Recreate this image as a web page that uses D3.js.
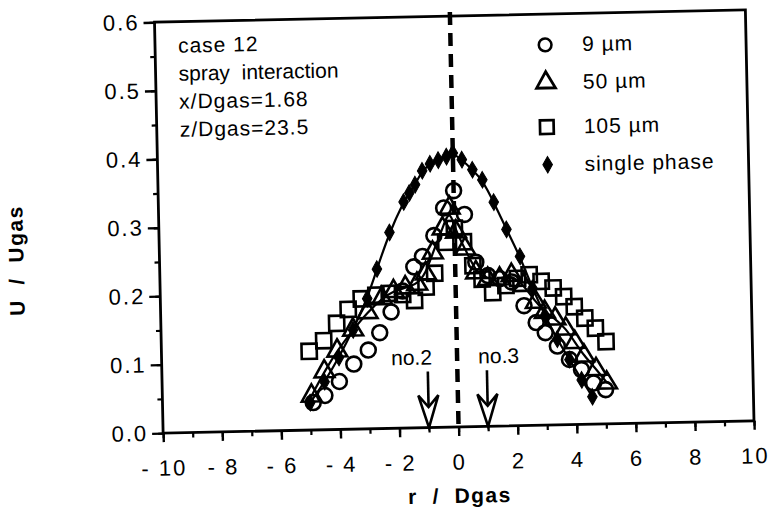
<!DOCTYPE html>
<html><head><meta charset="utf-8">
<script src="https://cdn.jsdelivr.net/npm/d3@7"></script>
<style>
html,body{margin:0;padding:0;background:#fff;}
text{font-family:"Liberation Sans",Arial,Helvetica,sans-serif;fill:#000;}
</style></head>
<body><svg id="c" width="771" height="523"></svg>
<script>
// ---- data ----
const xTicksMajor = [-10,-8,-6,-4,-2,0,2,4,6,8,10];
const yTicksMajor = [0,0.1,0.2,0.3,0.4,0.5,0.6];
const infoLines = ["case 12","spray  interaction","x/Dgas=1.68","z/Dgas=23.5"];
const seriesNames = ["9 \u00b5m","50 \u00b5m","105 \u00b5m","single phase"];

const r9 = [-4.9,-4.5,-4.0,-3.5,-3.0,-2.6,-2.2,-1.8,-1.4,-1.1,-0.7,-0.35,0,0.35,0.7,1.1,1.5,1.9,2.3,2.7,3.0,3.4,3.8,4.2,4.6,5.0];
const v9 = [0.04,0.05,0.07,0.095,0.115,0.14,0.17,0.2,0.235,0.25,0.28,0.32,0.345,0.31,0.24,0.22,0.215,0.21,0.175,0.15,0.135,0.115,0.095,0.08,0.06,0.05];

const r50 = [-4.95,-4.5,-4.05,-3.5,-3.0,-2.5,-2.1,-1.7,-1.3,-1.0,-0.75,-0.4,-0.15,0.05,0.35,0.7,1.1,1.5,1.9,2.3,2.7,3.0,3.35,3.7,4.0,4.3,4.7,5.05];
const v50 = [0.05,0.085,0.115,0.145,0.17,0.19,0.2,0.205,0.21,0.225,0.255,0.29,0.32,0.285,0.26,0.225,0.215,0.215,0.22,0.205,0.18,0.165,0.155,0.14,0.12,0.1,0.08,0.06];

const r105 = [-5.0,-4.5,-4.05,-3.65,-3.2,-2.7,-2.25,-1.8,-1.4,-1.0,-0.7,-0.3,0,0.3,0.6,0.9,1.25,1.7,2.1,2.5,2.9,3.3,3.65,4.0,4.35,4.7,5.05];
const v105 = [0.115,0.13,0.155,0.175,0.19,0.195,0.197,0.195,0.186,0.205,0.225,0.27,0.29,0.27,0.235,0.215,0.195,0.205,0.215,0.22,0.21,0.2,0.187,0.172,0.155,0.14,0.12];

const rSP = [-5.0,-4.5,-4.0,-3.5,-3.0,-2.65,-2.2,-1.7,-1.5,-1.3,-1.05,-0.78,-0.5,-0.22,0,0.3,0.65,0.98,1.35,1.76,2.2,2.6,3.0,3.4,3.8,4.2,4.55];
const vSP = [0.04,0.07,0.105,0.145,0.19,0.233,0.286,0.33,0.343,0.355,0.375,0.385,0.39,0.395,0.4,0.39,0.375,0.36,0.327,0.287,0.247,0.2,0.16,0.125,0.095,0.065,0.04];

const arrowR = [-1, 1];
const arrowLabels = ["no.2","no.3"];

// ---- layout ----
const PW = 591, PH = 411;
const svg = d3.select("#c");
const g = svg.append("g")
  .attr("transform","translate(454.25,221.5) rotate(-1.2) translate(-295.5,-205.5)");

const x = d3.scaleLinear().domain([-10,10]).range([0,PW]);
const y = d3.scaleLinear().domain([0,0.6]).range([PH,0]);

const zip = (rs,vs)=>rs.map((r,i)=>({r:r,v:vs[i]}));
const d9 = zip(r9,v9), d50 = zip(r50,v50), d105 = zip(r105,v105), dSP = zip(rSP,vSP);

// axes: minor ticks
const xMinor = d3.range(-10,11,1);
const yMinor = d3.range(0,0.61,0.05);
g.append("g").attr("transform",`translate(0,${PH})`)
  .call(d3.axisBottom(x).tickValues(xMinor).tickSize(5).tickFormat(""))
  .call(s=>{s.select(".domain").remove(); s.selectAll("line").attr("stroke-width",2.2);});
g.append("g")
  .call(d3.axisLeft(y).tickValues(yMinor).tickSize(5).tickFormat(""))
  .call(s=>{s.select(".domain").remove(); s.selectAll("line").attr("stroke-width",2.2);});

const xa = g.append("g").attr("transform",`translate(0,${PH})`)
  .call(d3.axisBottom(x).tickValues(xTicksMajor).tickSize(9).tickPadding(18)
        .tickFormat(d=> d<0 ? "- "+(-d) : String(d)));
xa.select(".domain").remove();
xa.selectAll("line").attr("stroke-width",2.4);
xa.selectAll("text").style("font-size","22px").style("letter-spacing","2px").attr("font-family",null);

const ya = g.append("g")
  .call(d3.axisLeft(y).tickValues(yTicksMajor).tickSize(11).tickPadding(4)
        .tickFormat(d3.format(".1f")));
ya.select(".domain").remove();
ya.selectAll("line").attr("stroke-width",2.4);
ya.selectAll("text").style("font-size","22px").style("letter-spacing","2px").attr("font-family",null);

// frame
g.append("rect").attr("x",0).attr("y",0).attr("width",PW).attr("height",PH)
  .attr("fill","none").attr("stroke","#000").attr("stroke-width",2.8);

// centre dashed line
g.append("line").attr("x1",x(0)).attr("x2",x(0)).attr("y1",-4).attr("y2",PH)
  .attr("stroke","#000").attr("stroke-width",4.5).attr("stroke-dasharray","13,8");

// fitted lines
g.append("path").datum(dSP)
  .attr("d",d3.line().x(d=>x(d.r)).y(d=>y(d.v)).curve(d3.curveBasis))
  .attr("fill","none").attr("stroke","#000").attr("stroke-width",2.2);
g.append("path").datum(d50)
  .attr("d",d3.line().x(d=>x(d.r)).y(d=>y(d.v)).curve(d3.curveBasis))
  .attr("fill","none").attr("stroke","#000").attr("stroke-width",2.2);

// markers
const sym = {
  sq: d3.symbol().type(d3.symbolSquare).size(230),
  tri: d3.symbol().type(d3.symbolTriangle).size(170),
  circ: d3.symbol().type(d3.symbolCircle).size(175),
  dia: d3.symbol().type(d3.symbolDiamond).size(80)
};
function drawMarkers(data, s, filled){
  g.append("g").selectAll("path").data(data).join("path")
    .attr("transform",d=>`translate(${x(d.r)},${y(d.v)})`)
    .attr("d",s)
    .attr("fill",filled?"#000":"none")
    .attr("stroke","#000").attr("stroke-width",filled?1:2.6);
}
drawMarkers(d105, sym.sq, false);
drawMarkers(d50, sym.tri, false);
drawMarkers(d9, sym.circ, false);
drawMarkers(dSP, sym.dia, true);

// arrows
arrowR.forEach((ar,i)=>{
  const ax = x(ar);
  g.append("line").attr("x1",ax).attr("x2",ax).attr("y1",y(0.082)).attr("y2",y(0.012))
    .attr("stroke","#000").attr("stroke-width",2.6);
  g.append("path")
    .attr("d",`M${ax-10},${y(0.047)} L${ax},${y(0)} L${ax+10},${y(0.047)} L${ax},${y(0.03)} Z`)
    .attr("fill","#fff").attr("stroke","#000").attr("stroke-width",2.6).attr("stroke-linejoin","miter");
  g.append("text").attr("x", i===0 ? ax-16 : ax+12).attr("y",y(0.092))
    .attr("text-anchor","middle").style("font-size","21px").text(arrowLabels[i]);
});

// info text
infoLines.forEach((t,i)=>{
  g.append("text").attr("x",23).attr("y",31+i*28).style("font-size","21px")
    .style("letter-spacing", i===1 ? "0px" : "1px")
    .style("white-space","pre").text(t);
});

// legend
const legY = [0.555, 0.5, 0.435, 0.38];
const legSym = [sym.circ, sym.tri, sym.sq, sym.dia];
const legScale = [0.85, 0.95, 0.9, 1.0];
seriesNames.forEach((n,i)=>{
  const lx = x(3.2), ly = y(legY[i]);
  g.append("path").attr("transform",`translate(${lx},${ly}) scale(${legScale[i]})`)
    .attr("d",legSym[i])
    .attr("fill", i===3 ? "#000" : "none").attr("stroke","#000").attr("stroke-width", i===3?1:3);
  g.append("text").attr("x",x(4.45)).attr("y",ly+7).style("font-size","21px")
    .style("letter-spacing","1px").text(n);
});

// axis titles
g.append("text").attr("x",x(0)).attr("y",PH+76).attr("text-anchor","middle")
  .style("font-size","21px").style("font-weight","bold").style("white-space","pre")
  .style("letter-spacing","1.5px")
  .text("r  /  Dgas");
g.append("text").attr("transform",`translate(-136,${PH/2+30}) rotate(-90)`)
  .attr("text-anchor","middle")
  .style("font-size","21px").style("font-weight","bold").style("white-space","pre")
  .style("letter-spacing","1.5px")
  .text("U  /  Ugas");
</script></body></html>
